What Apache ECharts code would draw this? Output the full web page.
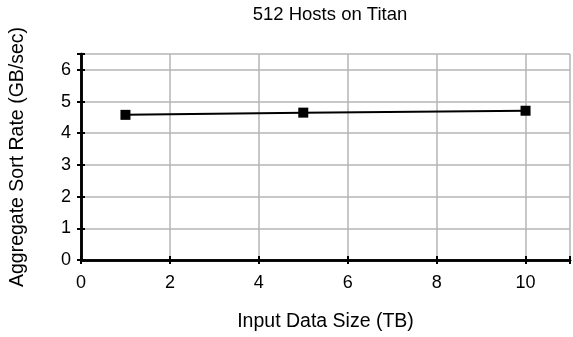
<!DOCTYPE html>
<html><head><meta charset="utf-8">
<script src="https://cdn.jsdelivr.net/npm/echarts@6/dist/echarts.min.js"></script>
<style>html,body{margin:0;padding:0;background:#fff}#c{width:573px;height:337px}</style>
</head><body><div id="c"></div>
<script>
const titleText = "512 Hosts on Titan";
const xName = "Input Data Size (TB)";
const yName = "Aggregate Sort Rate (GB/sec)";
const dataSizes = [1, 5, 10];
const sortRates = [4.58, 4.65, 4.71];
const xTicks = [0, 2, 4, 6, 8, 10];
const yTicks = [0, 1, 2, 3, 4, 5, 6];

const font = "Liberation Sans, Arial, sans-serif";
const chart = echarts.init(document.getElementById('c'));
const border = {show:true,lineStyle:{color:'#000',width:2.5}};
const tick = {show:true,inside:true,length:4,lineStyle:{color:'#000',width:2}};
chart.setOption({
  animation:false,
  backgroundColor:'#fff',
  title:{text:titleText,left:325,top:0,textAlign:'center',textStyle:{fontFamily:font,fontSize:18.5,fontWeight:'normal',color:'#000'}},
  grid:{left:78,right:2,top:54,bottom:69},
  xAxis:[{
    type:'value',min:0,max:11,interval:2,position:'bottom',
    name:xName,nameLocation:'middle',nameGap:52,
    nameTextStyle:{fontFamily:font,fontSize:19.5,color:'#000'},
    axisLine:border, axisTick:tick,
    axisLabel:{fontFamily:font,fontSize:18,color:'#000',margin:14,
      formatter:v=>xTicks.includes(v)?String(v):''},
    splitLine:{show:true,lineStyle:{color:'#b4b4b4',width:1.5}}
  },{
    type:'value',min:0,max:11,interval:2,position:'top',
    axisLine:border, axisTick:tick,
    axisLabel:{show:false},splitLine:{show:false}
  }],
  yAxis:[{
    type:'value',min:0,max:6.5,interval:1,position:'left',
    name:yName,nameLocation:'middle',nameGap:53,
    nameTextStyle:{fontFamily:font,fontSize:19.5,color:'#000'},
    axisLine:border, axisTick:tick,
    axisLabel:{fontFamily:font,fontSize:18,color:'#000',margin:10,
      formatter:v=>yTicks.includes(v)?String(v):''},
    splitLine:{show:true,lineStyle:{color:'#b4b4b4',width:1.5}}
  },{
    type:'value',min:0,max:6.5,interval:1,position:'right',
    axisLine:border, axisTick:tick,
    axisLabel:{show:false},splitLine:{show:false}
  }],
  series:[{
    type:'line',
    data:dataSizes.map((x,i)=>[x,sortRates[i]]),
    symbol:'rect',symbolSize:10,
    lineStyle:{color:'#000',width:2},
    itemStyle:{color:'#000'},
    z:5
  }]
});
</script></body></html>
